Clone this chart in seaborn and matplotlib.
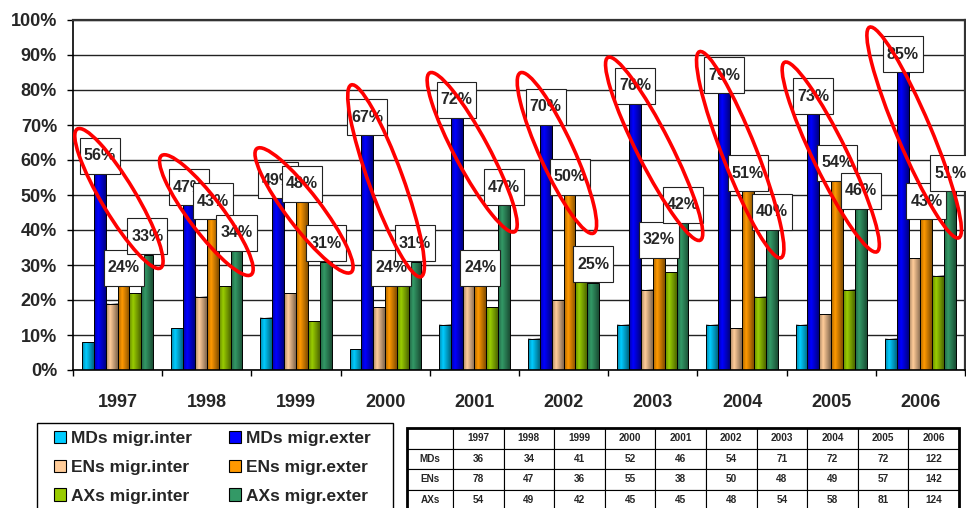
import numpy as np
import pandas as pd
import matplotlib.pyplot as plt
import seaborn as sns
from matplotlib.patches import Ellipse, Rectangle, Patch
from matplotlib.path import Path
from matplotlib.transforms import IdentityTransform

sns.set_style("white")
plt.rcParams["font.family"] = ["Liberation Sans", "DejaVu Sans"]
plt.rcParams["font.weight"] = "bold"

# ========== data ==========
years = ["1997", "1998", "1999", "2000", "2001", "2002", "2003", "2004", "2005", "2006"]
series = ["MDs migr.inter", "MDs migr.exter", "ENs migr.inter",
          "ENs migr.exter", "AXs migr.inter", "AXs migr.exter"]
md_inter = [8, 12, 15, 6, 13, 9, 13, 13, 13, 9]
md_exter = [56, 47, 49, 67, 72, 70, 76, 79, 73, 85]
en_inter = [19, 21, 22, 18, 24.5, 20, 23, 12, 16, 32]
en_exter = [24, 43, 48, 24, 24, 50, 32, 51, 54, 43]
ax_inter = [22, 24, 14, 25, 18, 25.5, 28, 21, 23, 27]
ax_exter = [33, 34, 31, 31, 47, 25, 42, 40, 46, 51]

table_rows = ["MDs", "ENs", "AXs"]
table_md = [36, 34, 41, 52, 46, 54, 71, 72, 72, 122]
table_en = [78, 47, 36, 55, 38, 50, 48, 49, 57, 142]
table_ax = [54, 49, 42, 45, 45, 48, 54, 58, 81, 124]

colors = ["#00CCFF", "#0000FF", "#FFCC99", "#FF9900", "#99CC00", "#339966"]

# red hand-drawn ellipses: bounding box (x left, x right in category units, top %, bottom %)
ellipse_boxes = [
    (-0.48, 0.51, 69, 29), (0.47, 1.52, 61.5, 27), (1.54, 2.64, 63.5, 27.7),
    (2.58, 3.44, 81.5, 26.6), (3.47, 4.48, 85, 39.4), (4.48, 5.37, 85, 39),
    (5.47, 6.56, 89.4, 37), (6.49, 7.47, 91, 32), (7.45, 8.54, 88, 33.7),
    (8.40, 9.46, 98, 37.7),
]

values = [md_inter, md_exter, en_inter, en_exter, ax_inter, ax_exter]
df = pd.DataFrame({
    "year": np.tile(years, len(series)),
    "series": np.repeat(series, len(years)),
    "value": np.concatenate(values),
})

W, H = 966, 508
fig = plt.figure(figsize=(W / 100, H / 100), dpi=100)
ax = fig.add_axes([73 / W, (H - 370) / H, (965 - 73) / W, 350 / H])

sns.barplot(data=df, x="year", y="value", hue="series", hue_order=series,
            palette=colors, saturation=1, edgecolor="black", linewidth=0.7,
            legend=False, ax=ax, zorder=2)

# excel-like cylinder shading on each bar
t = np.linspace(0, 1, 64)
shade = np.zeros((1, 64, 4))
shade[..., 3] = np.where(t < 0.35, 0.35 * (0.35 - t) / 0.35, 0.5 * (t - 0.35) / 0.65)
for bar in list(ax.patches):
    x0, w, h = bar.get_x(), bar.get_width(), bar.get_height()
    ax.imshow(shade, extent=[x0, x0 + w, 0, h], aspect="auto",
              interpolation="bilinear", zorder=2.2)

ax.set_xlim(-0.5, 9.5)
ax.set_ylim(0, 100)
ax.set_yticks(np.arange(0, 101, 10))
ax.set_yticklabels([f"{v}%" for v in range(0, 101, 10)], fontsize=13, fontweight="bold")
ax.tick_params(axis="y", length=4.5, width=1, pad=7, color="black", left=True)
ax.set_xticks(np.arange(-0.5, 10, 1))
ax.set_xticklabels([])
ax.set_xticks(np.arange(10), minor=True)
ax.set_xticklabels(years, minor=True, fontsize=13, fontweight="bold")
ax.tick_params(axis="x", which="major", length=4.5, width=1, color="black", bottom=True)
ax.tick_params(axis="x", which="minor", length=0, pad=17)
ax.set_xlabel("")
ax.set_ylabel("")
ax.yaxis.grid(True, color="#222222", lw=1)
ax.set_axisbelow(True)
for side in ["left", "bottom"]:
    ax.spines[side].set_color("black")
    ax.spines[side].set_linewidth(1.2)
for side in ["top", "right"]:
    ax.spines[side].set_color("#333333")
    ax.spines[side].set_linewidth(1.6)


# white label boxes (pixel space): 36 px tall, 4 px side padding
def label_box(x0, y0, width, height, mutation_size):
    yc = y0 + height / 2
    xa, xb = x0 - 4, x0 + width + 4
    ya, yb = yc - 18, yc + 18
    return Path([(xa, ya), (xb, ya), (xb, yb), (xa, yb), (xa, ya)], closed=True)


for k, idx in enumerate([1, 3, 5]):
    cont = ax.containers[idx]
    for bar, v in zip(cont, values[idx]):
        xc = bar.get_x() + bar.get_width() / 2
        ax.annotate(f"{v:.0f}%", xy=(xc, bar.get_height()), xytext=(0, 13),
                    textcoords="offset points", ha="center", va="center",
                    fontsize=11.5, fontweight="bold", zorder=5 + k,
                    bbox=dict(boxstyle=label_box, fc="white", ec="#222222", lw=0.8),
                    annotation_clip=False)

# red ellipses (drawn in pixel space so the tilt is not distorted)
b = 17
for (x0, x1, yt, yb) in ellipse_boxes:
    (px0, py0), (px1, py1) = ax.transData.transform([(x0, yb), (x1, yt)])
    cx, cy = (px0 + px1) / 2, (py0 + py1) / 2
    hw, hh = (px1 - px0) / 2, (py1 - py0) / 2
    a2 = hw ** 2 + hh ** 2 - b ** 2
    s2 = (1 + (hh ** 2 - hw ** 2) / (a2 - b ** 2)) / 2
    theta = np.degrees(np.arcsin(np.sqrt(min(s2, 1))))
    e = Ellipse((cx, cy), 2 * np.sqrt(a2), 2 * b, angle=-theta, fill=False,
                ec="red", lw=2.6, transform=IdentityTransform(), zorder=10)
    e.set_clip_on(False)
    fig.add_artist(e)

# legend (frame drawn separately, it runs off the bottom edge)
order = [0, 2, 4, 1, 3, 5]
handles = [Patch(fc=colors[i], ec="black", lw=0.8) for i in order]
fig.legend(handles, [series[i] for i in order], ncol=2, loc="upper left",
           bbox_to_anchor=(54 / W, 1 - 431 / H), prop={"size": 12.5, "weight": "bold"},
           frameon=False, handlelength=0.7, handleheight=0.7, handletextpad=0.3,
           columnspacing=2.1, labelspacing=0.78, borderpad=0, borderaxespad=0)
fig.add_artist(Rectangle((37 / W, -0.05), (393 - 37) / W, 0.05 + (H - 423) / H,
                         transform=fig.transFigure, fill=False, ec="black", lw=1.0))

# data table
tax = fig.add_axes([407 / W, (H - 510) / H, (959 - 407) / W, 82 / H])
tax.axis("off")
cells = [[""] + years]
for name, row in zip(table_rows, [table_md, table_en, table_ax]):
    cells.append([name] + [str(v) for v in row])
tbl = tax.table(cellText=cells, cellLoc="center", bbox=[0, 0, 1, 1],
                colWidths=[46] + [50.6] * 10)
tbl.auto_set_font_size(False)
for (r, c), cell in tbl.get_celld().items():
    cell.set_linewidth(0.8)
    cell.set_edgecolor("black")
    cell.get_text().set_fontsize(7.2)
    cell.get_text().set_fontweight("bold")
    if c == 0:
        cell._loc = "left"
tax.add_patch(Rectangle((0, 0), 1, 1, transform=tax.transAxes, fill=False,
                        ec="black", lw=2, clip_on=False))

fig.savefig("out.png", dpi=100)
